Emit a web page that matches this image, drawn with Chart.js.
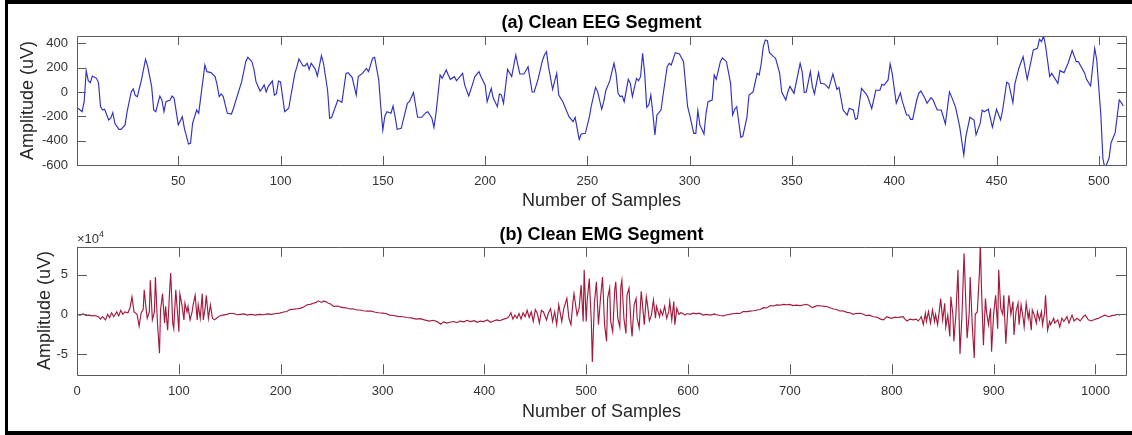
<!DOCTYPE html>
<html>
<head>
<meta charset="utf-8">
<script src="https://cdn.jsdelivr.net/npm/chart.js@4/dist/chart.umd.min.js"></script>
<style>
  html, body { margin: 0; padding: 0; background: #fff; }
  body { width: 1132px; height: 435px; position: relative; overflow: hidden; }
  canvas { position: absolute; left: 0; }
  #eeg { top: 0; }
  #emg { top: 215px; }
  #frame { position: absolute; left: 5px; top: 0; width: 1140px; height: 427px; border-top: 4px solid #000; border-left: 3px solid #000; border-bottom: 4px solid #000; pointer-events: none; }
</style>
</head>
<body>
<canvas id="eeg" width="1132" height="215"></canvas>
<canvas id="emg" width="1132" height="220"></canvas>
<div id="frame"></div>
<script>
// (a) clean EEG segment, uV
const eegSamples = [1,3,4,5,6,7,8,10,11,12,13,14,16,17,18,19,21,22,24,25,27,28,29,30,32,34,35,37,38,39,41,42,43,44,46,47,48,50,52,53,55,56,57,59,60,63,64,66,68,69,70,71,72,74,76,77,81,83,84,86,87,88,90,91,92,93,94,96,97,98,99,100,102,103,104,107,108,109,111,112,113,114,115,117,118,120,121,123,124,125,128,130,132,133,135,137,138,140,142,143,145,146,148,149,150,151,152,154,155,156,157,159,160,162,163,165,166,167,169,171,172,174,175,176,178,179,181,182,183,185,186,187,189,190,192,194,195,197,198,200,201,203,204,206,207,208,209,211,213,215,216,217,219,221,223,224,226,228,229,230,231,233,235,236,238,241,243,244,246,247,249,251,252,254,255,257,258,259,261,263,264,265,266,267,268,270,271,272,274,275,276,277,278,279,280,281,282,283,284,286,287,289,290,291,293,295,297,299,300,302,303,304,305,307,308,309,311,312,313,315,316,318,320,321,322,323,325,326,328,329,331,333,334,335,336,337,338,339,341,342,344,345,347,348,349,351,352,354,355,356,357,359,360,361,363,364,366,368,370,372,373,375,377,378,380,381,382,384,386,387,389,391,393,394,395,397,398,399,401,403,404,406,407,408,409,411,412,413,415,416,418,419,421,423,425,427,428,430,432,434,435,437,439,440,442,443,444,446,448,450,452,453,455,456,458,459,461,463,465,467,468,470,471,472,473,474,476,477,480,481,483,485,487,489,490,493,494,496,498,499,501,502,503,505,506,508,510,511,512];
const eegAmp = [-134,-162,-80,175,93,77,131,112,77,-120,-148,-142,-230,-216,-170,-258,-307,-307,-271,-162,0,25,-30,-38,99,268,214,44,-148,-162,-33,-66,-162,-80,-66,-33,-52,-271,-203,-299,-428,-422,-258,-148,-175,222,167,159,126,58,-38,-16,-38,-175,-181,-134,85,249,285,249,186,85,8,30,58,0,46,90,-27,-14,90,82,-162,-148,-134,153,208,271,214,214,236,186,236,186,131,299,236,14,-216,-208,-66,-85,153,159,120,-25,126,153,194,167,277,285,99,-121,-312,-197,-162,-175,-115,-203,-307,-299,-230,-93,-80,-5,-107,-208,-208,-170,-162,-216,-290,-175,140,112,181,140,104,126,93,112,153,58,-33,71,126,167,126,58,-80,30,-52,-121,-16,-25,-93,186,126,304,222,148,148,208,0,0,112,257,304,331,208,22,153,-25,-80,-203,-244,-208,-389,-345,-340,-203,-107,38,3,-142,-80,10,95,236,153,-11,-38,-33,-80,104,71,-38,112,93,126,318,153,-126,-107,-25,-175,-353,-189,-148,-25,208,236,222,323,312,249,-121,-189,-340,-340,-153,-271,-345,-175,-80,-66,140,104,249,279,249,71,-189,-142,-121,-373,-362,-208,-25,0,153,140,236,373,427,422,323,290,277,153,0,-66,0,46,-11,71,236,167,-5,0,167,44,-16,159,71,66,30,148,22,38,-148,-189,-134,-148,-225,-216,30,-11,-38,-137,14,14,63,55,99,230,153,-93,-8,-80,-189,-189,-225,-225,-66,-11,8,-52,-93,-46,-66,-148,-148,-263,0,-38,-126,-285,-518,-367,-208,-230,-353,-258,-148,-162,-142,-290,-142,-230,-148,82,68,-88,68,200,290,104,263,345,359,433,414,460,378,126,153,71,175,159,236,340,249,249,159,104,49,359,263,-189,-545,-630,-545,-417,-334,-66,-88,-115];
const eegXTicks = [50,100,150,200,250,300,350,400,450,500];
const eegYTicks = [-600,-400,-200,0,200,400];

// (b) clean EMG segment, x10^4 uV
const emgSamples = [0,3,6,9,12,15,18,21,23,25,28,30,32,34,36,39,41,43,45,47,50,52,54,56,59,61,63,65,66,68,69,71,72,74,76,77,79,81,82,84,86,87,89,91,92,94,95,97,99,100,101,103,105,106,108,109,111,113,114,116,118,119,121,123,124,126,127,129,131,133,135,137,140,143,147,150,154,157,160,164,167,171,175,179,183,187,191,195,199,203,206,209,213,216,219,222,226,229,232,235,237,240,242,244,247,249,252,256,259,262,265,268,271,275,278,281,285,289,292,296,300,303,307,311,315,320,324,328,333,337,341,346,350,354,357,360,363,366,370,373,376,380,383,386,390,393,396,399,403,406,409,412,415,419,422,424,426,428,430,432,434,436,438,440,442,444,446,448,450,452,454,456,458,461,463,465,467,469,471,473,476,478,481,483,485,487,488,491,493,495,497,498,500,501,503,505,506,508,510,512,514,516,518,520,521,523,524,526,528,529,531,533,534,535,537,539,540,542,544,545,547,549,550,552,554,555,557,559,560,562,564,566,568,569,572,573,575,577,579,581,582,584,586,587,589,591,593,595,597,599,602,605,608,611,615,618,622,626,628,631,635,638,641,645,648,651,654,658,661,664,668,671,674,677,681,684,687,690,694,697,700,703,706,710,713,716,719,722,725,727,731,734,737,740,743,746,749,752,756,759,762,765,769,772,775,778,782,785,789,792,795,798,800,803,805,808,811,813,815,818,821,824,826,828,829,831,833,834,836,838,840,842,843,845,847,848,850,852,853,855,857,858,860,861,863,865,867,869,871,874,876,877,879,881,882,884,886,887,888,890,892,893,895,897,898,900,902,904,905,907,909,910,912,914,915,917,919,920,922,924,925,927,929,930,932,934,935,937,938,940,942,943,945,947,948,950,951,953,955,956,959,960,963,965,967,969,972,974,977,979,982,985,988,990,993,996,1000,1003,1006,1009,1013,1016,1019,1022,1024];
const emgAmp = [0,-0.1,0.05,-0.15,-0.1,-0.2,-0.15,-0.3,-0.6,-0.3,-0.7,0,-0.4,0.2,-0.3,0.3,-0.2,0.5,0,0.3,0.2,0.8,2.2,0.3,0,-1.5,0.2,0.6,3.1,0.5,-0.5,0.3,4.3,-0.7,0.3,4.7,-1.1,-4.9,0.5,2.6,-1.1,1,-2,3.1,5.2,-1.1,-1.8,3.1,-0.3,-2.2,2.6,1.2,-0.7,1.4,0.3,1,-0.7,0.3,1.2,2.4,-0.7,1.2,-0.5,2.6,-0.7,1,2.4,-0.5,1.2,-0.5,-0.7,-0.5,-0.2,-0.1,0,0.1,0.1,-0.05,0,0.05,-0.1,0,-0.1,0,-0.05,0.05,0,0.1,0.15,0.3,0.35,0.6,0.65,0.7,0.75,0.9,1.2,1.25,1.4,1.5,1.7,1.5,1.65,1.6,1.4,1.3,1.0,1.05,0.9,0.85,0.8,0.67,0.7,0.55,0.55,0.45,0.4,0.4,0.3,0.2,0.15,0.1,-0.1,-0.15,-0.25,-0.3,-0.4,-0.45,-0.6,-0.55,-0.7,-0.85,-0.75,-0.95,-1.25,-0.95,-1.1,-1.0,-0.9,-1.05,-0.85,-0.95,-0.75,-0.92,-0.8,-1.0,-0.85,-0.92,-0.7,-1.0,-0.84,-0.7,-0.8,-0.6,-0.5,-0.3,0.2,-0.6,-0.1,-0.5,0.1,-0.6,0.2,-0.3,0.5,-0.4,0.3,-0.9,0.6,0.1,-1.1,0.5,0.3,-0.7,0.2,0.7,-0.9,0.3,-1.3,1.2,-0.9,0.75,2.0,-0.5,-1.3,1.6,2.6,-0.1,0.75,3.7,-0.9,5.6,-0.9,1.8,4.5,-0.9,-6.0,1.4,4.1,-1.3,2.0,4.7,-1.3,-3.4,2.0,3.3,-0.9,-2.2,3.1,4.1,-0.5,-1.6,3.5,4.3,-0.5,-2.4,2.4,3.3,-1.3,-2.8,1.2,2.0,-0.5,-1.7,2.9,1.6,-1.3,2.2,1.4,-0.8,-0.1,1.8,-0.5,1.0,-0.3,0.55,-0.1,1.0,-0.5,0.34,1.6,-0.7,1.6,-1.3,0.75,0,0.2,0.1,-0.1,0.1,0,0.15,0.05,0.15,-0.1,0,-0.1,0.05,-0.05,-0.15,-0.2,-0.05,0,0.1,0.13,0.1,0.34,0.34,0.4,0.45,0.55,0.6,0.84,0.8,1.1,1.05,1.18,1.15,1.26,1.2,1.25,1.1,1.15,1.1,1.18,1.26,1.1,0.84,1.0,1.1,1.05,1.0,0.95,0.8,0.67,0.6,0.42,0.45,0.25,0.2,0,0.1,0.13,0,-0.17,-0.1,-0.3,-0.35,-0.6,-0.7,-0.3,-0.45,-0.5,-0.35,-0.4,-0.35,-0.3,-0.6,-0.84,-0.6,-0.7,-0.6,-0.84,-0.5,-0.3,-1.3,0.13,-0.9,0.34,-1.1,0.55,-0.9,0,-1.3,0.75,2.0,-0.7,1.4,-1.6,-0.1,-2.8,2.2,0,-3.4,0,5.6,-5.0,0,7.7,-3.0,0,4.7,-1.3,-5.5,0,0.3,5.0,9.0,3.7,-3.9,2.0,0.34,-1.3,0.75,-4.7,0,2.4,-1.8,5.6,0.75,0,2.4,-3.7,0.75,2.4,0,1.6,-2.6,0.34,1.4,-1.3,1.2,-0.5,-1.6,1.4,-0.5,0.34,-2.0,0.55,-0.1,-1.1,0.34,-0.7,0.34,-1.3,0.13,2.4,-2.0,-0.9,-1.3,-0.5,-1.1,-0.7,-1.6,-0.5,-0.9,-0.3,-1.1,-0.1,-0.84,-0.5,-0.84,-0.3,-0.1,-0.7,-0.84,-0.6,-0.5,-0.3,-0.1,-0.3,-0.17,-0.1,0,-0.1];
const emgXTicks = [0,100,200,300,400,500,600,700,800,900,1000];
const emgYTicks = [-5,0,5];

Chart.defaults.font.family = '"Liberation Sans", Arial, sans-serif';
Chart.defaults.color = '#333';

// matlab style box with inward ticks on all four sides
const boxTicks = {
  id: 'boxTicks',
  afterDatasetsDraw(chart, args, opts) {
    const { ctx, chartArea: a, scales: { x, y } } = chart;
    const len = opts.len || 9;
    ctx.save();
    ctx.strokeStyle = '#5a5a5a';
    ctx.lineWidth = 1;
    ctx.beginPath();
    ctx.rect(Math.round(a.left) + 0.5, Math.round(a.top) + 0.5, Math.round(a.right - a.left), Math.round(a.bottom - a.top));
    x.ticks.forEach(t => {
      const px = Math.round(x.getPixelForValue(t.value)) + 0.5;
      ctx.moveTo(px, a.top); ctx.lineTo(px, a.top + len);
      ctx.moveTo(px, a.bottom); ctx.lineTo(px, a.bottom - len);
    });
    y.ticks.forEach(t => {
      const py = Math.round(y.getPixelForValue(t.value)) + 0.5;
      ctx.moveTo(a.left, py); ctx.lineTo(a.left + len, py);
      ctx.moveTo(a.right, py); ctx.lineTo(a.right - len, py);
    });
    ctx.stroke();
    if (opts.exponent) {
      ctx.fillStyle = '#333';
      ctx.textBaseline = 'alphabetic';
      ctx.textAlign = 'left';
      ctx.font = '13px "Liberation Sans", Arial, sans-serif';
      const base = '\u00d710';
      ctx.fillText(base, a.left, a.top - 4);
      const w = ctx.measureText(base).width;
      ctx.font = '9px "Liberation Sans", Arial, sans-serif';
      ctx.fillText(opts.exponent, a.left + w, a.top - 10);
    }
    ctx.restore();
  }
};

function makeChart(id, cfg) {
  return new Chart(document.getElementById(id), {
    type: 'line',
    data: {
      datasets: [{
        data: cfg.xs.map((s, i) => ({ x: s, y: cfg.ys[i] })),
        borderColor: cfg.color,
        borderWidth: 1.15,
        pointRadius: 0,
        tension: 0
      }]
    },
    options: {
      responsive: false,
      animation: false,
      devicePixelRatio: 1,
      layout: { padding: { top: cfg.padTop, right: 6, left: 0, bottom: 0 } },
      plugins: {
        legend: { display: false },
        tooltip: { enabled: false },
        title: {
          display: true,
          text: cfg.title,
          fullSize: false,
          color: '#000',
          font: { size: 18, weight: 'bold' },
          padding: { top: 8, bottom: cfg.titleGap }
        },
        boxTicks: { len: cfg.tickLen, exponent: cfg.exponent }
      },
      scales: {
        x: {
          type: 'linear',
          min: cfg.xMin,
          max: cfg.xMax,
          afterBuildTicks: s => { s.ticks = cfg.xTicks.map(v => ({ value: v })); },
          afterFit: s => { s.height = cfg.xHeight; },
          grid: { display: false, drawTicks: false },
          border: { display: false },
          ticks: { padding: 9, font: { size: 13 }, maxRotation: 0, autoSkip: false, callback: v => String(v) },
          title: { display: true, text: 'Number of Samples', color: '#262626', font: { size: 18 }, padding: { top: 0, bottom: cfg.xTitlePad } }
        },
        y: {
          min: cfg.yMin,
          max: cfg.yMax,
          afterBuildTicks: s => { s.ticks = cfg.yTicks.map(v => ({ value: v })); },
          afterFit: s => { s.width = 77; },
          grid: { display: false, drawTicks: false },
          border: { display: false },
          ticks: { padding: 9, font: { size: 13 }, autoSkip: false, callback: v => String(v) },
          title: { display: true, text: 'Amplitude (uV)', color: '#262626', font: { size: 18 }, padding: { top: cfg.yTitlePad, bottom: 0 } }
        }
      }
    },
    plugins: [boxTicks]
  });
}

makeChart('eeg', {
  xs: eegSamples, ys: eegAmp, color: '#3030c0',
  title: '(a) Clean EEG Segment',
  padTop: 4, titleGap: 2.4, tickLen: 9,
  xMin: 0.5, xMax: 513.3, xTicks: eegXTicks, xHeight: 50, xTitlePad: 3,
  yMin: -600, yMax: 460, yTicks: eegYTicks, yTitlePad: 17
});

makeChart('emg', {
  xs: emgSamples, ys: emgAmp, color: '#a31a3c',
  title: '(b) Clean EMG Segment',
  padTop: 1, titleGap: 1.2, tickLen: 10, exponent: '4',
  xMin: 0, xMax: 1030, xTicks: emgXTicks, xHeight: 60.7, xTitlePad: 12,
  yMin: -7.55, yMax: 8.5, yTicks: emgYTicks, yTitlePad: 34
});
</script>
</body>
</html>
